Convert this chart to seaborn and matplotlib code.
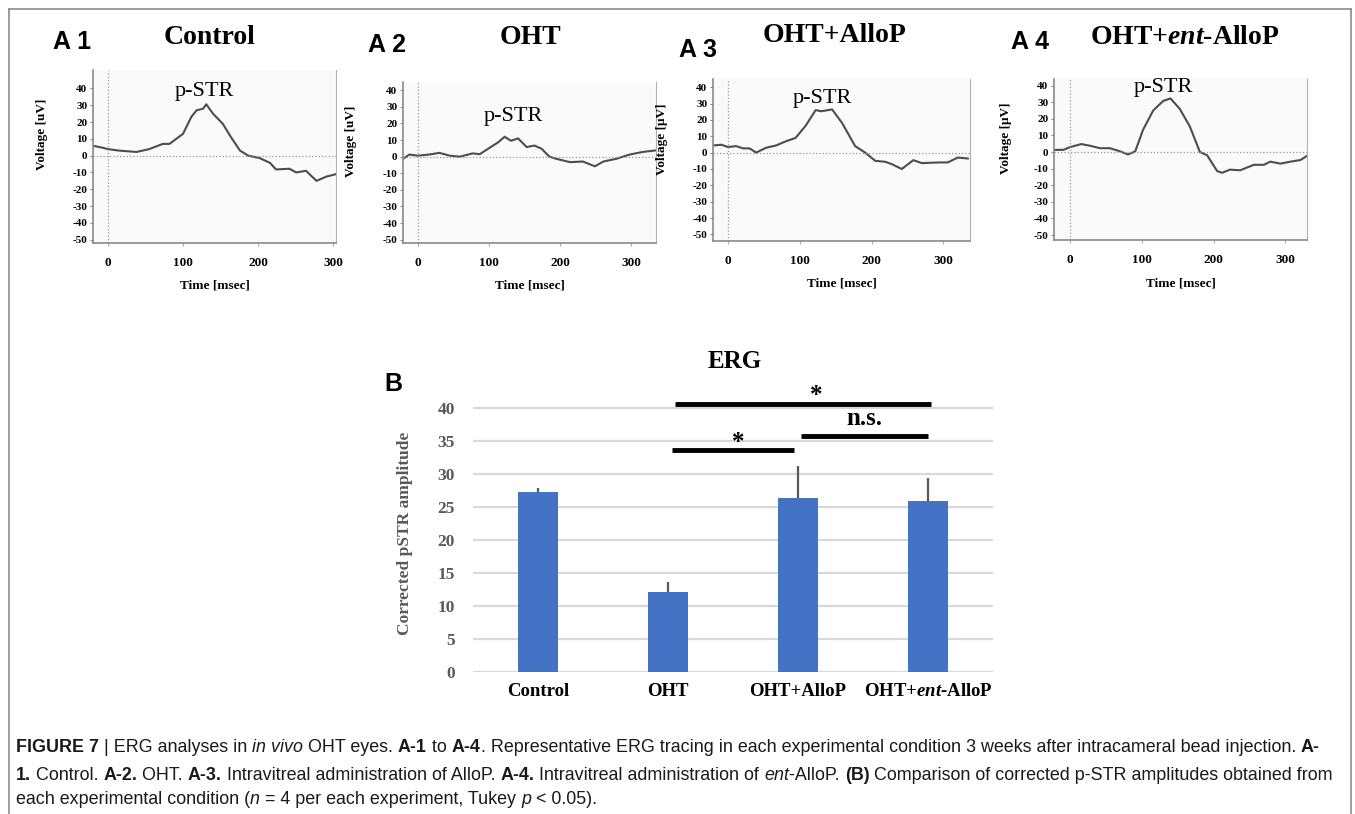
import numpy as np
import pandas as pd
import seaborn as sns
import matplotlib.pyplot as plt
from matplotlib.lines import Line2D

# ---- data ----
ctrl_t = [-20, -10, 0, 15, 38, 55, 73, 82, 100, 111, 118, 127, 131, 140, 153, 164, 176, 187, 202, 216, 224, 242, 251, 264, 278, 291, 304]
ctrl_v = [5.9, 5, 3.9, 3, 2.2, 3.9, 7, 7, 13, 23, 27, 28, 30.6, 25, 19, 11, 3, 0, -1.4, -4.3, -8.2, -7.8, -10, -9, -15, -12.5, -11]

oht_t = [-21, -12, 0, 16, 30, 45, 59, 77, 87, 101, 113, 122, 131, 141, 153, 164, 174, 185, 195, 214, 232, 249, 261, 279, 298, 317, 335]
oht_v = [-1.3, 1.3, 0.6, 1.3, 2.3, 0.6, 0, 2, 1.5, 5.4, 8.7, 12, 9.6, 11, 5.8, 6.7, 4.8, 0, -1.3, -3.3, -2.9, -5.8, -2.9, -1.3, 1.3, 2.9, 3.8]

allo_t = [-21, -9, 0, 11, 21, 30, 39, 53, 67, 81, 94, 108, 122, 130, 145, 159, 177, 191, 205, 219, 228, 242, 258, 270, 293, 306, 320, 334]
allo_v = [4.4, 4.8, 3.4, 4, 2.6, 2.6, 0, 3, 4.4, 7, 9, 16.4, 26, 25.3, 26.4, 18, 4, 0, -5, -5.6, -7, -10, -4.6, -6.4, -6, -6, -3, -3.6]

ent_t = [-21, -9, 0, 16, 28, 42, 56, 70, 81, 91, 102, 116, 130, 140, 153, 167, 181, 191, 205, 212, 223, 237, 256, 270, 279, 293, 307, 321, 330]
ent_v = [1.3, 1.3, 2.9, 4.8, 3.8, 2.3, 2.3, 0.4, -1.5, 0.4, 13.5, 25, 30.8, 32.3, 26, 15.4, 0, -1.9, -11.5, -12.5, -10.6, -11, -7.7, -7.7, -5.8, -7, -5.8, -4.8, -2.3]

groups = ['Control', 'OHT', 'OHT+AlloP', 'OHT+$\\it{ent}$-AlloP']
amp_mean = [27.3, 12.1, 26.4, 25.9]
amp_err = [0.6, 1.5, 4.8, 3.5]

W, H = 1355, 814

plt.rcParams['font.family'] = ['Liberation Serif', 'DejaVu Serif']
plt.rcParams['axes.unicode_minus'] = False
plt.rcParams['mathtext.fontset'] = 'custom'
plt.rcParams['mathtext.rm'] = 'Liberation Serif:bold'
plt.rcParams['mathtext.it'] = 'Liberation Serif:bold:italic'
plt.rcParams['mathtext.bf'] = 'Liberation Serif:bold'

fig = plt.figure(figsize=(W / 100, H / 100), dpi=100)


def box(x0, y0, x1, y1):
    return [x0 / W, 1 - y1 / H, (x1 - x0) / W, (y1 - y0) / H]


def ftext(x, y, s, **kw):
    return fig.text(x / W, 1 - y / H, s, **kw)


# frame round the figure
for xs, ys in [([9, 9], [814, 9]), ([9, 1351], [9, 9]), ([1351, 1351], [9, 814])]:
    fig.add_artist(Line2D([x / W for x in xs], [1 - y / H for y in ys], color='#8c8c8c', lw=1.2))

# ---- panels A ----
panels = [
    (ctrl_t, ctrl_v, box(93, 70, 336, 243), (-20, 304), (-52, 51), 'Voltage [uV]', 48, 'A 1', (72, 42), 'Control', (210, 38), (129, 38)),
    (oht_t, oht_v, box(403, 82, 656, 243), (-21, 335), (-52, 45), 'Voltage [uV]', 357, 'A 2', (387, 45), 'OHT', (530, 38), (134, 24)),
    (allo_t, allo_v, box(713, 79, 970, 241), (-21, 337), (-54, 45), 'Voltage [μV]', 668, 'A 3', (698, 50), 'OHT+AlloP', (835, 35), (131, 33)),
    (ent_t, ent_v, box(1054, 79, 1307, 240), (-22, 330), (-53, 44), 'Voltage [μV]', 1012, 'A 4', (1030, 42), 'OHT+$\\it{ent}$-AlloP', (1185, 37), (130, 39)),
]

for t, v, pos, xl, yl, ylab, ylx, tag, tagxy, title, titxy, pxy in panels:
    ax = fig.add_axes(pos)
    ax.set_facecolor('#fafafa')
    df = pd.DataFrame({'t': t, 'v': v})
    sns.lineplot(data=df, x='t', y='v', ax=ax, color='#4d4d4d', lw=1.5)
    ax.axhline(0, color='#9a9a9a', ls=':', lw=0.9)
    ax.axvline(0, color='#9a9a9a', ls=':', lw=0.9)
    ax.set_xlim(*xl)
    ax.set_ylim(*yl)
    ax.set_xticks([0, 100, 200, 300])
    ax.set_yticks(range(-50, 41, 10))
    ax.tick_params(axis='x', labelsize=9.5, length=2, color='#aaaaaa', pad=8)
    ax.tick_params(axis='y', labelsize=8, length=2, color='#888888', pad=2)
    for lab in ax.get_xticklabels() + ax.get_yticklabels():
        lab.set_fontweight('bold')
    ax.spines['top'].set_visible(False)
    for s in ['left', 'bottom']:
        ax.spines[s].set_color('#8a8a8a')
        ax.spines[s].set_linewidth(1.2)
    ax.spines['right'].set_color('#b0b0b0')
    ax.set_xlabel('Time [msec]', fontsize=9.5, fontweight='bold', labelpad=8)
    ax.set_ylabel(ylab, fontsize=9.5, fontweight='bold')
    ax.yaxis.set_label_coords((ylx - pos[0] * W) / (pos[2] * W), 0.63)
    ax.text(pxy[0], pxy[1], 'p-STR', fontsize=16, ha='center', va='center')
    ftext(tagxy[0], tagxy[1], tag, fontsize=18, fontweight='bold', family='Liberation Sans', ha='center', va='center')
    ftext(titxy[0], titxy[1], title, fontsize=20, fontweight='bold', ha='center', va='center')

# ---- panel B ----
axb = fig.add_axes(box(473, 395, 993, 672))
bdf = pd.DataFrame({'group': groups, 'amp': amp_mean})
sns.barplot(data=bdf, x='group', y='amp', color='#4472C4', saturation=1, width=0.31, errorbar=None, ax=axb, zorder=3)
axb.errorbar(range(4), amp_mean, yerr=[[0] * 4, amp_err], fmt='none', ecolor='#595959', elinewidth=1.6, capsize=0, zorder=4)
axb.set_xlim(-0.5, 3.5)
axb.set_ylim(0, 42)
axb.set_yticks(range(0, 41, 5))
axb.yaxis.grid(True, color='#d9d9d9', lw=1.6, zorder=0)
axb.set_axisbelow(True)
for s in axb.spines.values():
    s.set_visible(False)
axb.tick_params(axis='y', length=0, labelsize=12.5, labelcolor='#595959', pad=13)
axb.tick_params(axis='x', length=0, labelsize=13.5, pad=8)
for lab in axb.get_yticklabels() + axb.get_xticklabels():
    lab.set_fontweight('bold')
axb.set_xlabel('')
axb.set_ylabel('Corrected pSTR amplitude', fontsize=12.5, fontweight='bold', color='#595959')
axb.yaxis.set_label_coords((413 - 473) / 520, 0.5)

brackets = [((1.03, 1.97), 33.6, '*', 1.54, 34.8), ((2.02, 3.0), 35.8, 'n.s.', 2.51, 38.4), ((1.05, 3.02), 40.7, '*', 2.14, 42.0)]
for (xa, xb), yb, lab, lx, ly in brackets:
    axb.plot([xa, xb], [yb, yb], color='black', lw=3.5, clip_on=False, solid_capstyle='butt')
    axb.text(lx, ly, lab, fontsize=18, fontweight='bold', ha='center', va='center', clip_on=False)

ftext(735, 362, 'ERG', fontsize=18, fontweight='bold', ha='center', va='center')
ftext(393, 384, 'B', fontsize=18, fontweight='bold', family='Liberation Sans', ha='center', va='center')

# ---- caption ----
R = fig.canvas.get_renderer()


def rich_line(x, y, pieces, size=12.9):
    for txt, wt, st in pieces:
        tt = ftext(x, y, txt, fontsize=size, fontweight=wt, style=st, family='Liberation Sans', va='center', ha='left', color='#1a1a1a')
        prop = tt.get_fontproperties()
        w1 = R.get_text_width_height_descent('x' + txt + 'x', prop, ismath=False)[0]
        w0 = R.get_text_width_height_descent('xx', prop, ismath=False)[0]
        x += w1 - w0


N, B, I = ('normal', 'normal'), ('bold', 'normal'), ('normal', 'italic')
line1 = [('FIGURE 7', *B), (' | ERG analyses in ', *N), ('in vivo', *I), (' OHT eyes. ', *N), ('A-1', *B), (' to ', *N),
         ('A-4', *B), ('. Representative ERG tracing in each experimental condition 3 weeks after intracameral bead injection. ', *N), ('A-', *B)]
line2 = [('1.', *B), (' Control. ', *N), ('A-2.', *B), (' OHT. ', *N), ('A-3.', *B), (' Intravitreal administration of AlloP. ', *N),
         ('A-4.', *B), (' Intravitreal administration of ', *N), ('ent', *I), ('-AlloP. ', *N), ('(B)', *B),
         (' Comparison of corrected p-STR amplitudes obtained from', *N)]
line3 = [('each experimental condition (', *N), ('n', *I), (' = 4 per each experiment, Tukey ', *N), ('p', *I), (' < 0.05).', *N)]
rich_line(16, 748, line1)
rich_line(16, 775, line2)
rich_line(16, 800, line3)

fig.savefig('out.png', dpi=100)
